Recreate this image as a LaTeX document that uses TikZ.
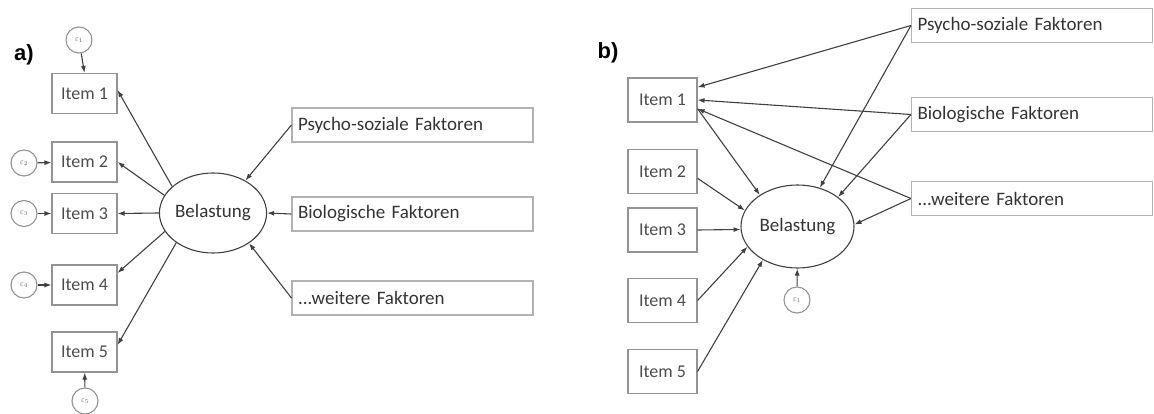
\documentclass[tikz,border=0pt]{standalone}
\usepackage{fontspec}
\setmainfont{Carlito}
\newfontfamily\panelfont{Liberation Sans}
\usetikzlibrary{arrows.meta,shapes.geometric}
\tikzset{
  itembox/.style={draw=gray!85, line width=1.1pt, text=black!70, minimum width=65pt, minimum height=40pt, inner sep=0pt, font=\fontsize{18}{20}\selectfont},
  factorbox/.style={draw=gray!60, line width=1.1pt, text=black!80, text width=229pt, align=left, inner xsep=6pt, minimum height=34pt, font=\fontsize{19}{21}\selectfont},
  errcirc/.style={circle, draw=gray!85, line width=1.1pt, minimum size=26pt, inner sep=0pt, text=black!60, font=\fontsize{8}{8}\selectfont},
  latent/.style={ellipse, draw=black!75, line width=1.1pt, inner sep=0pt, text=black!80, font=\fontsize{19}{21}\selectfont},
  pfeil/.style={draw=black!75, line width=1.1pt, -{Latex[length=7pt,width=5pt]}},
  panel/.style={font=\panelfont\bfseries\fontsize{22}{23}\selectfont}
}
\begin{document}
\begin{tikzpicture}[x=1pt, y=-1pt]
    \useasboundingbox (0,0) rectangle (1154,414);
    % a)
    \node[panel] (la) at (24,55) {a)};
    \foreach \n/\y in {1/93.5,2/162,3/213.5,4/285,5/352} {\node[itembox] (i\n a) at (84.5,\y) {Item \n};}
    \node[errcirc] (e1a) at (79,40) {$\varepsilon_1$};
    \node[errcirc] (e2a) at (24,163) {$\varepsilon_2$};
    \node[errcirc] (e3a) at (24,213.5) {$\varepsilon_3$};
    \node[errcirc] (e4a) at (24,285) {$\varepsilon_4$};
    \node[errcirc] (e5a) at (85,401) {$\varepsilon_5$};
    \node[latent, minimum width=106pt, minimum height=80pt] (bela) at (213,213) {Belastung};
    \node[factorbox] (psya) at (412.5,125) {Psycho-soziale Faktoren};
    \node[factorbox] (bioa) at (412.5,214) {Biologische Faktoren};
    \node[factorbox] (weia) at (412.5,298) {...weitere Faktoren};
    \draw[pfeil] (e1a) -- (i1a.north);
    \foreach \n in {2,3,4} {\draw[pfeil] (e\n a) -- (i\n a);}
    \draw[pfeil] (e5a) -- (i5a);
    \draw[pfeil] (bela.147) -- (i1a.6);
    \draw[pfeil] (bela.160) -- (i2a.east);
    \draw[pfeil] (bela.west) -- (i3a.east);
    \draw[pfeil] (bela.201) -- (i4a.20);
    \draw[pfeil] (bela.219) -- (i5a.12);
    \draw[pfeil] (psya.west) -- (bela.45);
    \draw[pfeil] (bioa.west) -- (bela.east);
    \draw[pfeil] (weia.west) -- (bela.-40);
    % b)
    \node[panel] (lb) at (608,53) {b)};
    \foreach \n/\y in {1/100,2/171.5,3/230,4/300.5,5/371.5} {\node[itembox, minimum width=69pt, minimum height=44pt] (i\n b) at (662.5,\y) {Item \n};}
    \node[latent, minimum width=113pt, minimum height=83pt] (belb) at (797.5,226.5) {Belastung};
    \node[errcirc] (eb) at (797,300) {$\varepsilon_1$};
    \node[factorbox] (psyb) at (1032,25.5) {Psycho-soziale Faktoren};
    \node[factorbox] (biob) at (1032,114.5) {Biologische Faktoren};
    \node[factorbox] (weib) at (1032,198.5) {...weitere Faktoren};
    \draw[pfeil] (psyb.west) -- (i1b.20);
    \draw[pfeil] (biob.west) -- (i1b.east);
    \draw[pfeil] (weib.west) -- (i1b.-14);
    \draw[pfeil] (psyb.west) -- (belb.60);
    \draw[pfeil] (biob.west) -- (belb.36);
    \draw[pfeil] (weib.west) -- (belb.2);
    \draw[pfeil] (i1b.-14) -- (belb.140);
    \draw[pfeil] (i2b.-11) -- (belb.163);
    \draw[pfeil] (i3b.east) -- (belb.183);
    \draw[pfeil] (i4b.east) -- (belb.202);
    \draw[pfeil] (i5b.east) -- (belb.224);
    \draw[pfeil] (eb) -- (belb);
  \end{tikzpicture}
\end{document}
